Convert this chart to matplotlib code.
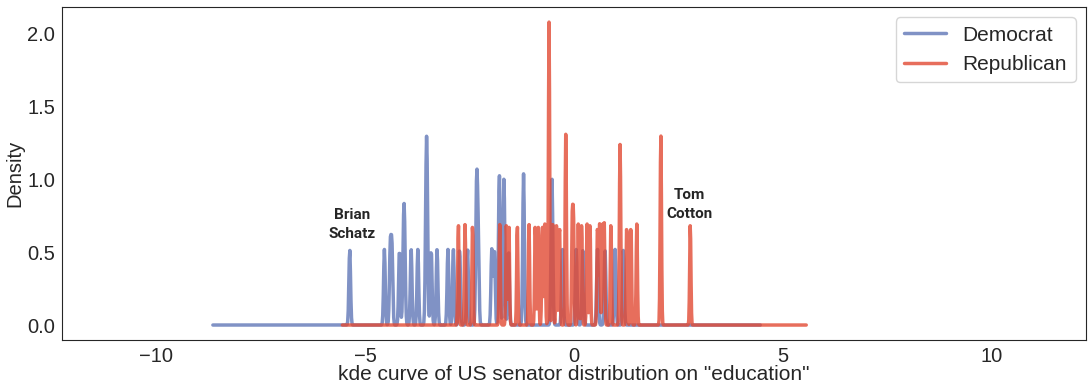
import numpy as np
import matplotlib
matplotlib.use("Agg")
import matplotlib.pyplot as plt
import seaborn as sns

# senator positions on "education"
democrat = [-5.37, -4.54, -4.40, -4.36, -4.18, -4.083, -4.057, -3.90, -3.74,
            -3.545, -3.53, -3.515, -3.42, -3.28, -3.02, -2.89, -2.74, -2.55,
            -2.34, -2.325, -2.295, -1.97, -1.91, -1.79, -1.79, -1.685, -1.675,
            -1.57, -1.21, -1.21, -0.535, -0.525, -0.28, 0.05, 0.21, 0.56,
            0.74, 0.98, 1.18]
republican = [-2.77, -2.61, -2.43, -1.78, -1.62, -1.56, -1.36, -1.08, -0.93,
              -0.86, -0.76, -0.70, -0.60, -0.60, -0.60, -0.51, -0.42, -0.35,
              -0.205, -0.195, -0.045, -0.015, 0.10, 0.18, 0.31, 0.38, 0.56, 0.61,
              0.68, 0.72, 0.88, 1.093, 1.107, 1.26, 1.36, 1.50, 2.07, 2.08,
              2.78]
bw_method = 0.0115

annotations = [("Brian\nSchatz", -5.31, 0.69), ("Tom\nCotton", 2.75, 0.825)]


def kde_curve(values, bw, npts=1000):
    # same evaluation grid as pandas' plot.kde
    v = np.asarray(values)
    rng = v.max() - v.min()
    ind = np.linspace(v.min() - 0.5 * rng, v.max() + 0.5 * rng, npts)
    sigma = bw * v.std(ddof=1)
    z = (ind[:, None] - v[None, :]) / sigma
    dens = np.exp(-0.5 * z ** 2).sum(axis=1) / (len(v) * sigma * np.sqrt(2 * np.pi))
    return ind, dens


sns.set_style("white")
plt.rcParams['font.family'] = ['Liberation Sans', 'DejaVu Sans']

fig = plt.figure(figsize=(10.92, 3.87), dpi=100)
ax = fig.add_axes([0.057, 0.121, 0.9375, 0.861])

x, y = kde_curve(democrat, bw_method)
ax.plot(x, y, color='#4a64ad', alpha=0.7, lw=2.5, label='Democrat')
x, y = kde_curve(republican, bw_method)
ax.plot(x, y, color='#e24a33', alpha=0.8, lw=2.5, label='Republican')

for txt, tx, ty in annotations:
    ax.text(tx, ty, txt, ha='center', va='center', fontsize=11,
            fontweight='bold', linespacing=1.4, family=['Roboto', 'DejaVu Sans'])

ax.set_xlim(-12.25, 12.25)
ax.set_xticks([-10, -5, 0, 5, 10])
ax.set_yticks([0.0, 0.5, 1.0, 1.5, 2.0])
ax.tick_params(labelsize=14.5, pad=1.5)
ax.set_xlabel('kde curve of US senator distribution on "education"', fontsize=15, labelpad=-1)
ax.set_ylabel('Density', fontsize=14.5, labelpad=2)
ax.legend(loc='upper right', fontsize=15)

plt.savefig("out.png")
